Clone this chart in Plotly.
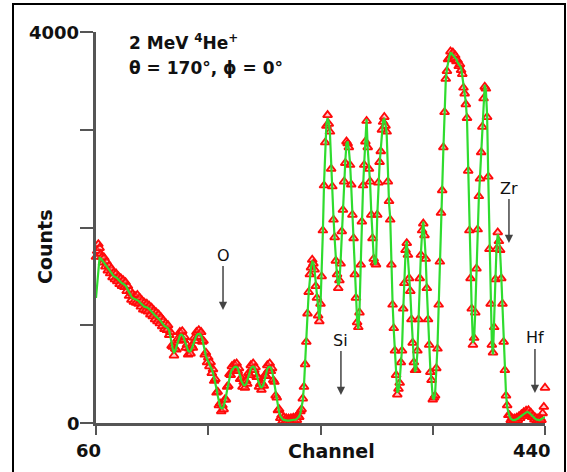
import plotly.graph_objects as go

# Channel axis: one value per channel, 60..440
channel_start = 60
channel_end = 440

# Simulated spectrum (green line), channels 60..440
fit_counts = [
    1280, 1450, 1600, 1690, 1685, 1670, 1655, 1640, 1625, 1612,
    1595, 1575, 1555, 1535, 1515, 1502, 1496, 1490, 1480, 1466,
    1452, 1440, 1430, 1424, 1418, 1405, 1385, 1360, 1336, 1312,
    1292, 1278, 1272, 1270, 1268, 1262, 1250, 1236, 1222, 1208,
    1197, 1190, 1187, 1183, 1176, 1165, 1150, 1135, 1121, 1110,
    1100, 1090, 1080, 1070, 1056, 1040, 1022, 1004, 992, 985,
    980, 968, 940, 890, 820, 752, 722, 735, 780, 830,
    870, 895, 905, 900, 880, 845, 800, 762, 738, 730,
    738, 760, 795, 835, 870, 895, 910, 915, 912, 895,
    860, 800, 735, 685, 655, 632, 608, 580, 548, 510,
    465, 412, 350, 280, 215, 170, 152, 150, 168, 210,
    270, 340, 410, 470, 515, 545, 562, 572, 576, 575,
    560, 530, 480, 430, 398, 386, 385, 398, 430, 480,
    525, 558, 574, 578, 568, 540, 495, 440, 398, 372,
    365, 375, 405, 455, 510, 552, 572, 576, 565, 530,
    470, 395, 310, 228, 160, 108, 72, 50, 38, 32,
    28, 26, 25, 25, 26, 27, 28, 30, 32, 36,
    42, 52, 70, 100, 150, 230, 380, 580, 840, 1100,
    1330, 1500, 1600, 1650, 1640, 1560, 1420, 1260, 1120, 1060,
    1200, 1520, 1950, 2450, 2850, 3060, 3120, 3080, 2960, 2620,
    2400, 2100, 1880, 1680, 1500, 1410, 1440, 1650, 1940, 2200,
    2450, 2680, 2860, 2880, 2800, 2660, 2420, 2150, 1870, 1540,
    1260, 1050, 960, 1150, 1600, 2080, 2410, 2660, 2860, 3110,
    2800, 2620, 2450, 2150, 1870, 1700, 1620, 1640, 2110, 2480,
    2650, 2800, 2980, 3100, 3110, 3060, 2960, 2490, 2250, 2100,
    1600, 1230, 950, 760, 470, 310, 330, 430, 600, 760,
    1150, 1450, 1750, 1860, 1700, 1500, 1330, 1080, 800, 640,
    520, 560, 720, 1080, 1460, 1740, 1950, 2060, 1900, 1700,
    1360, 1080, 780, 540, 420, 260, 240, 300, 540, 780,
    1190, 1670, 2130, 2400, 2800, 3200, 3500, 3620, 3700, 3750,
    3785, 3780, 3765, 3750, 3740, 3720, 3690, 3670, 3650, 3635,
    3550, 3450, 3350, 3280, 3100, 2600, 1950, 1500, 1150, 820,
    850, 1150, 1560, 2000, 2300, 2520, 2750, 3050, 3300, 3460,
    3400, 3150, 2500, 1800, 1200, 820, 700, 1000, 1450, 1800,
    1930, 1880, 1750, 1500, 1200, 850, 520, 300, 160, 95,
    65, 45, 35, 30, 30, 32, 38, 46, 56, 66,
    76, 84, 92, 100, 108, 112, 110, 100, 86, 72,
    60, 48, 40, 34, 30, 30, 34, 40, 48, 55,
    62,
]

# Measured spectrum (red triangles), channels 60..440
data_counts = [
    1700, 1760, 1830, 1790, 1730, 1700, 1640, 1690, 1600, 1650,
    1560, 1610, 1530, 1580, 1490, 1540, 1470, 1530, 1450, 1500,
    1420, 1480, 1400, 1460, 1390, 1440, 1350, 1400, 1300, 1350,
    1260, 1320, 1240, 1300, 1230, 1310, 1220, 1280, 1190, 1250,
    1160, 1230, 1150, 1220, 1140, 1200, 1110, 1180, 1090, 1150,
    1060, 1130, 1040, 1110, 1020, 1080, 990, 1050, 960, 1020,
    950, 1000, 900, 930, 790, 780, 690, 760, 750, 860,
    840, 930, 870, 940, 850, 880, 770, 800, 700, 760,
    710, 790, 770, 870, 840, 930, 880, 950, 880, 930,
    830, 840, 700, 720, 620, 670, 580, 620, 510, 550,
    430, 450, 310, 320, 180, 200, 120, 180, 140, 240,
    240, 370, 380, 500, 490, 580, 530, 600, 550, 610,
    530, 560, 450, 460, 370, 420, 360, 430, 400, 510,
    490, 590, 540, 610, 540, 570, 470, 470, 370, 400,
    340, 400, 380, 490, 480, 590, 540, 610, 530, 560,
    440, 420, 280, 260, 130, 140, 50, 80, 20, 60,
    10, 50, 15, 45, 10, 50, 15, 55, 20, 60,
    30, 75, 60, 120, 140, 250, 370, 600, 830, 1120,
    1340, 1520, 1590, 1670, 1630, 1570, 1400, 1280, 1100, 1040,
    1220, 1500, 1970, 2430, 2870, 3040, 3150, 3060, 2980, 2600,
    2420, 2080, 1900, 1660, 1520, 1380, 1460, 1630, 1960, 2180,
    2470, 2660, 2880, 2860, 2820, 2640, 2440, 2130, 1890, 1520,
    1280, 1030, 980, 1130, 1620, 2060, 2430, 2640, 2880, 3090,
    2820, 2600, 2470, 2130, 1890, 1680, 1640, 1620, 2130, 2460,
    2670, 2780, 3000, 3080, 3130, 3040, 2980, 2470, 2270, 2080,
    1620, 1210, 970, 740, 490, 290, 350, 410, 620, 740,
    1170, 1430, 1770, 1840, 1720, 1480, 1350, 1060, 820, 620,
    540, 540, 740, 1060, 1480, 1720, 1970, 2040, 1920, 1680,
    1380, 1060, 800, 520, 440, 240, 260, 280, 560, 760,
    1210, 1650, 2150, 2380, 2820, 3180, 3520, 3600, 3720, 3730,
    3800, 3760, 3790, 3730, 3760, 3700, 3710, 3650, 3670, 3610,
    3570, 3430, 3370, 3260, 3120, 2580, 1970, 1480, 1170, 800,
    870, 1130, 1580, 1980, 2320, 2500, 2770, 3030, 3320, 3440,
    3420, 3130, 2520, 1780, 1220, 800, 720, 980, 1470, 1780,
    1950, 1860, 1770, 1480, 1220, 830, 540, 280, 180, 80,
    80, 30, 50, 20, 45, 20, 55, 30, 70, 50,
    90, 70, 110, 85, 125, 100, 130, 90, 105, 60,
    75, 35, 55, 20, 45, 20, 50, 30, 100, 165,
    360,
]

channels = list(range(channel_start, channel_end + 1))

x_tick_vals = [60, 155, 250, 345, 440]
y_tick_vals = [0, 1000, 2000, 3000, 4000]

# Element edge markers: (label, channel, counts at arrow tip)
element_labels = ["O", "Si", "Zr", "Hf"]
element_channels = [167.5, 267.3, 409.5, 431.5]
element_tip_counts = [1156, 286, 1841, 307]

FONT = "DejaVu Sans"
AXIS_GRAY = "#555555"

fig = go.Figure()

fig.add_trace(go.Scatter(
    x=channels, y=data_counts, mode="markers",
    marker=dict(symbol="triangle-up", size=8,
                color="rgba(255,120,120,0.4)",
                line=dict(color="#ff0a0a", width=1.8)),
    cliponaxis=False, showlegend=False, hoverinfo="skip",
))
fig.add_trace(go.Scatter(
    x=channels, y=fit_counts, mode="lines",
    line=dict(color="#2fdc2f", width=2.2),
    cliponaxis=False, showlegend=False, hoverinfo="skip",
))

W, H = 567, 472
L, R, T, B = 96, 22, 32, 49
pw = W - L - R
ph = H - T - B


def px(xp):
    return (xp - L) / pw


def py(yp):
    return (H - B - yp) / ph


annotations = [
    dict(text="<b>4000</b>", x=px(81), y=py(32), xanchor="right", yanchor="middle"),
    dict(text="<b>0</b>", x=px(82), y=py(423), xanchor="right", yanchor="middle"),
    dict(text="<b>60</b>", x=px(88), y=py(450), xanchor="center", yanchor="middle"),
    dict(text="<b>440</b>", x=px(532), y=py(451), xanchor="center", yanchor="middle"),
    dict(text="<b>Channel</b>", x=px(331), y=py(451), xanchor="center", yanchor="middle",
         font=dict(size=19)),
    dict(text="<b>Counts</b>", x=px(45), y=py(247), xanchor="center", yanchor="middle",
         textangle=-90, font=dict(size=19)),
    dict(text="<b>2 MeV <sup>4</sup>He<sup>+</sup></b>", x=px(127), y=py(42),
         xanchor="left", yanchor="middle", font=dict(size=17)),
    dict(text="<b>θ = 170°, ϕ = 0°</b>", x=px(127), y=py(68),
         xanchor="left", yanchor="middle", font=dict(size=17)),
]
for a in annotations:
    a.update(xref="paper", yref="paper", showarrow=False)
    a.setdefault("font", dict(size=18))
    a["font"] = dict(family=FONT, color="#111111", **a["font"])

for lab, ch, cnt in zip(element_labels, element_channels, element_tip_counts):
    annotations.append(dict(
        text=lab, x=ch, y=cnt, xref="x", yref="y",
        showarrow=True, ax=0, ay=-55, arrowhead=2, arrowsize=1.1,
        arrowwidth=1.5, arrowcolor="#444444", standoff=0,
        font=dict(family=FONT, size=16, color="#111111"),
    ))

fig.update_layout(
    width=W, height=H,
    margin=dict(l=L, r=R, t=T, b=B, pad=0),
    paper_bgcolor="white", plot_bgcolor="white",
    showlegend=False,
    annotations=annotations,
    shapes=[dict(type="rect", xref="paper", yref="paper",
                 x0=px(13), x1=px(565), y0=py(485), y1=py(4),
                 line=dict(color="black", width=2))],
    xaxis=dict(range=[channel_start, channel_end], showgrid=False, zeroline=False,
               showline=True, linecolor=AXIS_GRAY, linewidth=2.5,
               ticks="outside", ticklen=9, tickwidth=2, tickcolor=AXIS_GRAY,
               tickvals=x_tick_vals, showticklabels=False),
    yaxis=dict(range=[0, 4000], showgrid=False, zeroline=False,
               showline=True, linecolor=AXIS_GRAY, linewidth=2.5,
               ticks="outside", ticklen=13, tickwidth=2, tickcolor=AXIS_GRAY,
               tickvals=y_tick_vals, showticklabels=False),
)

fig.write_html("out.html")
